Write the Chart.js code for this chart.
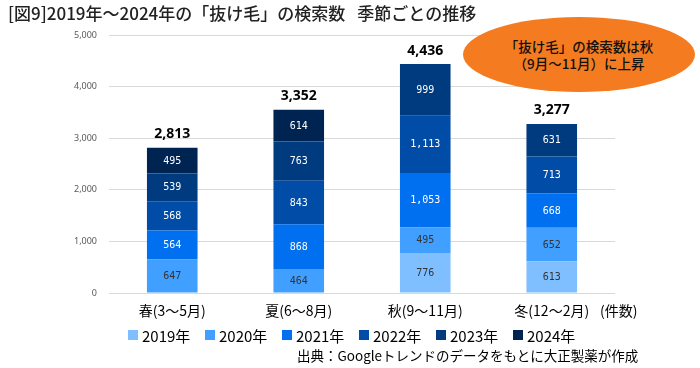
<!DOCTYPE html>
<html>
<head>
<meta charset="utf-8">
<script src="https://cdn.jsdelivr.net/npm/chart.js@4/dist/chart.umd.min.js"></script>
<style>
html,body{margin:0;padding:0;background:#fff;}
#wrap{position:relative;width:700px;height:368px;overflow:hidden;font-family:"Noto Sans CJK JP","Noto Sans",sans-serif;}
#c{position:absolute;left:0;top:0;}
#title{position:absolute;left:8px;top:1px;font-size:17px;line-height:23px;color:#222;white-space:nowrap;font-weight:500;}
#callout{position:absolute;left:463px;top:17px;width:232px;height:75px;border-radius:50%;background:#f47b20;display:flex;align-items:center;justify-content:center;text-align:center;font-size:13.5px;line-height:16.5px;color:#111;font-weight:500;}
#unit{position:absolute;left:600px;top:300px;font-size:14px;line-height:20px;color:#000;white-space:nowrap;}
#legend{position:absolute;left:128px;top:324px;height:22px;}
.li{position:absolute;top:0;display:flex;align-items:center;height:22px;font-size:15px;color:#000;white-space:nowrap;}
.sw{width:10px;height:10px;margin-right:4px;}
#source{position:absolute;left:297px;top:345px;font-size:13.5px;line-height:20px;color:#000;white-space:nowrap;}
</style>
</head>
<body>
<div id="wrap">
  <canvas id="c" width="700" height="368"></canvas>
  <div id="title">[図9]2019年～2024年の「抜け毛」の検索数<span style="display:inline-block;width:12px"></span>季節ごとの推移</div>
  <div id="callout"><div>「抜け毛」の検索数は秋<br>（9月～11月）に上昇</div></div>
  <div id="unit">(件数)</div>
  <div id="legend"></div>
  <div id="source">出典：Googleトレンドのデータをもとに大正製薬が作成</div>
</div>
<script>
// ---- data ----
const seasons = ["春(3～5月)", "夏(6～8月)", "秋(9～11月)", "冬(12～2月)"];
const years = ["2019年", "2020年", "2021年", "2022年", "2023年", "2024年"];
const y2019 = [null, null, 776, 613];
const y2020 = [647, 464, 495, 652];
const y2021 = [564, 868, 1053, 668];
const y2022 = [568, 843, 1113, 713];
const y2023 = [539, 763, 999, 631];
const y2024 = [495, 614, null, null];
const totalLabels = ["2,813", "3,352", "4,436", "3,277"];
const yTicks = [0, 1000, 2000, 3000, 4000, 5000];

// ---- styles ----
const colors = ["#80bfff", "#409fff", "#0070f0", "#004ca6", "#003b80", "#002452"];
const segTextColors = ["#333333", "#333333", "#ffffff", "#ffffff", "#ffffff", "#ffffff"];
const series = [y2019, y2020, y2021, y2022, y2023, y2024];

// HTML legend built from arrays
const lg = document.getElementById('legend');
years.forEach((y, i) => {
  const d = document.createElement('div');
  d.className = 'li';
  d.style.left = (i * 77) + 'px';
  d.innerHTML = '<span class="sw" style="background:' + colors[i] + '"></span>' + y;
  lg.appendChild(d);
});

const labelPlugin = {
  id: 'segLabels',
  afterDatasetsDraw(chart) {
    const ctx = chart.ctx;
    ctx.save();
    ctx.textAlign = 'center';
    ctx.textBaseline = 'middle';
    chart.data.datasets.forEach((ds, i) => {
      const meta = chart.getDatasetMeta(i);
      meta.data.forEach((el, j) => {
        const v = ds.data[j];
        if (v == null) return;
        const p = el.getProps(['x', 'y', 'base'], true);
        ctx.fillStyle = segTextColors[i];
        ctx.font = '10px "DejaVu Sans Mono"';
        ctx.fillText(v.toLocaleString('en-US'), p.x, (p.y + p.base) / 2 + 0.5);
      });
    });
    const xs = chart.scales.x, ys = chart.scales.y;
    ctx.fillStyle = '#000';
    ctx.font = 'bold 14px "Noto Sans"';
    seasons.forEach((s, j) => {
      let sum = 0;
      series.forEach(d => { if (d[j] != null) sum += d[j]; });
      ctx.fillText(totalLabels[j], xs.getPixelForValue(j), ys.getPixelForValue(sum) - 13.5);
    });
    ctx.restore();
  }
};

new Chart(document.getElementById('c'), {
  type: 'bar',
  data: {
    labels: seasons,
    datasets: years.map((y, i) => ({
      label: y,
      data: series[i],
      backgroundColor: colors[i],
      borderWidth: 0,
      barPercentage: 0.4,
      categoryPercentage: 1.0
    }))
  },
  options: {
    responsive: false,
    devicePixelRatio: 1,
    animation: false,
    locale: 'en-US',
    layout: { padding: { left: 0, right: 85, top: 35, bottom: 0 } },
    plugins: { legend: { display: false }, tooltip: { enabled: false }, title: { display: false } },
    scales: {
      x: {
        stacked: true,
        grid: { display: false, drawTicks: false },
        border: { display: false },
        ticks: {
          color: '#000',
          font: { family: '"Noto Sans CJK JP"', size: 14 },
          padding: 9,
          maxRotation: 0,
          autoSkip: false
        },
        afterFit(s) { s.height = 75; }
      },
      y: {
        stacked: true,
        min: 0,
        max: 5000,
        afterBuildTicks(s) { s.ticks = yTicks.map(v => ({ value: v })); },
        ticks: {
          color: '#595959',
          font: { family: '"Noto Sans"', size: 9 },
          padding: 12
        },
        grid: { color: '#d9d9d9', lineWidth: 1, drawTicks: false },
        border: { display: false },
        afterFit(s) { s.width = 109; }
      }
    }
  },
  plugins: [labelPlugin]
});
</script>
</body>
</html>
